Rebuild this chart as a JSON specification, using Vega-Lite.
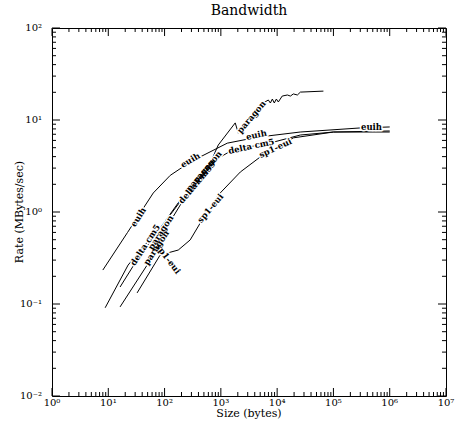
{
  "$schema": "https://vega.github.io/schema/vega-lite/v6.json",
  "width": 394,
  "height": 368,
  "autosize": "none",
  "padding": {"left": 52, "top": 28, "right": 9, "bottom": 30},
  "background": "white",
  "title": {"text": "Bandwidth", "font": "DejaVu Serif", "fontSize": 14, "fontWeight": "normal", "color": "black", "offset": 5, "anchor": "middle"},
  "config": {
    "view": {"stroke": "black", "strokeWidth": 1}
  },
  "datasets": {
    "lines": [
      {"line": "euih", "size": 8, "rate": 0.234},
      {"line": "euih", "size": 22, "rate": 0.6},
      {"line": "euih", "size": 63, "rate": 1.61},
      {"line": "euih", "size": 126, "rate": 2.5},
      {"line": "euih", "size": 286, "rate": 3.5},
      {"line": "euih", "size": 1300, "rate": 5.6},
      {"line": "euih", "size": 4460, "rate": 6.5},
      {"line": "euih", "size": 25700, "rate": 7.4},
      {"line": "euih", "size": 302000, "rate": 8.2},
      {"line": "euih", "size": 1000000, "rate": 8.4},
      {"line": "delta cm5", "size": 8.8, "rate": 0.091},
      {"line": "delta cm5", "size": 22.5, "rate": 0.265},
      {"line": "delta cm5", "size": 45, "rate": 0.44},
      {"line": "delta cm5", "size": 91, "rate": 0.72},
      {"line": "delta cm5", "size": 190, "rate": 1.35},
      {"line": "delta cm5", "size": 350, "rate": 2.0},
      {"line": "delta cm5", "size": 795, "rate": 3.67},
      {"line": "delta cm5", "size": 1600, "rate": 4.72},
      {"line": "delta cm5", "size": 7570, "rate": 5.63},
      {"line": "delta cm5", "size": 25900, "rate": 6.87},
      {"line": "delta cm5", "size": 100000, "rate": 7.4},
      {"line": "delta cm5", "size": 1000000, "rate": 7.6},
      {"line": "paragon 1", "size": 16.2, "rate": 0.093},
      {"line": "paragon 1", "size": 49, "rate": 0.265},
      {"line": "paragon 1", "size": 102, "rate": 0.64},
      {"line": "paragon 1", "size": 190, "rate": 1.19},
      {"line": "paragon 1", "size": 350, "rate": 1.96},
      {"line": "paragon 1", "size": 648, "rate": 3.41},
      {"line": "paragon 1", "size": 900, "rate": 5.35},
      {"line": "paragon 1", "size": 1800, "rate": 9.3},
      {"line": "paragon 1", "size": 2040, "rate": 7.2},
      {"line": "paragon 1", "size": 5680, "rate": 15.3},
      {"line": "paragon 1", "size": 6970, "rate": 16.5},
      {"line": "paragon 1", "size": 7580, "rate": 15.3},
      {"line": "paragon 1", "size": 8220, "rate": 16.9},
      {"line": "paragon 1", "size": 8910, "rate": 15.3},
      {"line": "paragon 1", "size": 9680, "rate": 16.9},
      {"line": "paragon 1", "size": 10500, "rate": 15.7},
      {"line": "paragon 1", "size": 12300, "rate": 18.2},
      {"line": "paragon 1", "size": 15200, "rate": 18.7},
      {"line": "paragon 1", "size": 17200, "rate": 18.2},
      {"line": "paragon 1", "size": 19400, "rate": 19.2},
      {"line": "paragon 1", "size": 22900, "rate": 18.7},
      {"line": "paragon 1", "size": 25900, "rate": 20.1},
      {"line": "paragon 1", "size": 66400, "rate": 20.6},
      {"line": "paragon 2", "size": 16.2, "rate": 0.153},
      {"line": "paragon 2", "size": 34, "rate": 0.316},
      {"line": "paragon 2", "size": 68, "rate": 0.56},
      {"line": "paragon 2", "size": 126, "rate": 0.93},
      {"line": "paragon 2", "size": 232, "rate": 1.53},
      {"line": "paragon 2", "size": 430, "rate": 2.34},
      {"line": "paragon 2", "size": 732, "rate": 3.67},
      {"line": "sp1-eui", "size": 32.5, "rate": 0.132},
      {"line": "sp1-eui", "size": 83.5, "rate": 0.341},
      {"line": "sp1-eui", "size": 175, "rate": 0.386},
      {"line": "sp1-eui", "size": 285, "rate": 0.497},
      {"line": "sp1-eui", "size": 486, "rate": 0.86},
      {"line": "sp1-eui", "size": 900, "rate": 1.53},
      {"line": "sp1-eui", "size": 2215, "rate": 2.72},
      {"line": "sp1-eui", "size": 5000, "rate": 3.96},
      {"line": "sp1-eui", "size": 19500, "rate": 6.4},
      {"line": "sp1-eui", "size": 100000, "rate": 7.4},
      {"line": "sp1-eui", "size": 1000000, "rate": 7.4}
    ],
    "labels": [
      {"text": "euih", "size": 34, "rate": 0.88},
      {"text": "euih", "size": 286, "rate": 3.67},
      {"text": "euih", "size": 4270, "rate": 6.9},
      {"text": "euih", "size": 475000, "rate": 8.4},
      {"text": "delta cm5", "size": 45, "rate": 0.44},
      {"text": "delta cm5", "size": 350, "rate": 2.0},
      {"text": "delta cm5", "size": 3470, "rate": 5.2},
      {"text": "paragon", "size": 71, "rate": 0.41},
      {"text": "paragon", "size": 85, "rate": 0.6},
      {"text": "paragon", "size": 430, "rate": 2.52},
      {"text": "paragon", "size": 573, "rate": 3.08},
      {"text": "paragon", "size": 3470, "rate": 10.8},
      {"text": "sp1-eui", "size": 116, "rate": 0.31},
      {"text": "sp1-eui", "size": 648, "rate": 1.1},
      {"text": "sp1-eui", "size": 9300, "rate": 4.97}
    ],
    "xmajor": [{"v": 1}, {"v": 10}, {"v": 100}, {"v": 1000}, {"v": 10000}, {"v": 100000}, {"v": 1000000}, {"v": 10000000}],
    "xticks": [{"v":1},{"v":2},{"v":3},{"v":4},{"v":5},{"v":6},{"v":7},{"v":8},{"v":9},{"v":10},{"v":20},{"v":30},{"v":40},{"v":50},{"v":60},{"v":70},{"v":80},{"v":90},{"v":100},{"v":200},{"v":300},{"v":400},{"v":500},{"v":600},{"v":700},{"v":800},{"v":900},{"v":1000},{"v":2000},{"v":3000},{"v":4000},{"v":5000},{"v":6000},{"v":7000},{"v":8000},{"v":9000},{"v":10000},{"v":20000},{"v":30000},{"v":40000},{"v":50000},{"v":60000},{"v":70000},{"v":80000},{"v":90000},{"v":100000},{"v":200000},{"v":300000},{"v":400000},{"v":500000},{"v":600000},{"v":700000},{"v":800000},{"v":900000},{"v":1000000},{"v":2000000},{"v":3000000},{"v":4000000},{"v":5000000},{"v":6000000},{"v":7000000},{"v":8000000},{"v":9000000},{"v":10000000}],
    "ymajor": [{"v": 0.01}, {"v": 0.1}, {"v": 1}, {"v": 10}, {"v": 100}],
    "yticks": [{"v":0.01},{"v":0.02},{"v":0.03},{"v":0.04},{"v":0.05},{"v":0.06},{"v":0.07},{"v":0.08},{"v":0.09},{"v":0.1},{"v":0.2},{"v":0.3},{"v":0.4},{"v":0.5},{"v":0.6},{"v":0.7},{"v":0.8},{"v":0.9},{"v":1},{"v":2},{"v":3},{"v":4},{"v":5},{"v":6},{"v":7},{"v":8},{"v":9},{"v":10},{"v":20},{"v":30},{"v":40},{"v":50},{"v":60},{"v":70},{"v":80},{"v":90},{"v":100}]
  },
  "layer": [
    {
      "data": {"name": "lines"},
      "mark": {"type": "line", "color": "black", "strokeWidth": 1, "clip": true},
      "encoding": {
        "x": {"field": "size", "type": "quantitative", "scale": {"type": "log", "domain": [1, 10000000], "nice": false}, "axis": null},
        "y": {"field": "rate", "type": "quantitative", "scale": {"type": "log", "domain": [0.01, 100], "nice": false}, "axis": null},
        "detail": {"field": "line"}
      }
    },
    {
      "data": {"name": "xticks"},
      "transform": [
        {"calculate": "abs(log(datum.v)/LN10 - round(log(datum.v)/LN10)) < 0.000001", "as": "m"},
        {"calculate": "0.01", "as": "b1"},
        {"calculate": "datum.m ? 0.01222 : 0.01105", "as": "b2"},
        {"calculate": "100", "as": "t1"},
        {"calculate": "datum.m ? 81.8 : 90.5", "as": "t2"}
      ],
      "layer": [
        {
          "mark": {"type": "rule", "color": "black", "strokeWidth": 1},
          "encoding": {
            "x": {"field": "v", "type": "quantitative", "axis": null},
            "y": {"field": "b1", "type": "quantitative", "axis": null},
            "y2": {"field": "b2"}
          }
        },
        {
          "mark": {"type": "rule", "color": "black", "strokeWidth": 1},
          "encoding": {
            "x": {"field": "v", "type": "quantitative", "axis": null},
            "y": {"field": "t1", "type": "quantitative", "axis": null},
            "y2": {"field": "t2"}
          }
        }
      ]
    },
    {
      "data": {"name": "yticks"},
      "transform": [
        {"calculate": "abs(log(datum.v)/LN10 - round(log(datum.v)/LN10)) < 0.000001", "as": "m"},
        {"calculate": "1", "as": "l1"},
        {"calculate": "datum.m ? 1.387 : 1.178", "as": "l2"},
        {"calculate": "10000000", "as": "r1"},
        {"calculate": "datum.m ? 7210000 : 8490000", "as": "r2"}
      ],
      "layer": [
        {
          "mark": {"type": "rule", "color": "black", "strokeWidth": 1},
          "encoding": {
            "y": {"field": "v", "type": "quantitative", "axis": null},
            "x": {"field": "l1", "type": "quantitative", "axis": null},
            "x2": {"field": "l2"}
          }
        },
        {
          "mark": {"type": "rule", "color": "black", "strokeWidth": 1},
          "encoding": {
            "y": {"field": "v", "type": "quantitative", "axis": null},
            "x": {"field": "r1", "type": "quantitative", "axis": null},
            "x2": {"field": "r2"}
          }
        }
      ]
    },
    {
      "data": {"name": "xmajor"},
      "transform": [{"calculate": "['10⁻²','10⁻¹','10⁰','10¹','10²','10³','10⁴','10⁵','10⁶','10⁷'][round(log(datum.v)/LN10)+2]", "as": "lab"}],
      "mark": {"type": "text", "font": "DejaVu Serif", "fontSize": 10, "color": "black", "baseline": "top", "align": "center", "dy": 2},
      "encoding": {
        "x": {"field": "v", "type": "quantitative", "axis": null},
        "y": {"datum": 0.01, "type": "quantitative", "axis": null},
        "text": {"field": "lab"}
      }
    },
    {
      "data": {"name": "ymajor"},
      "transform": [{"calculate": "['10⁻²','10⁻¹','10⁰','10¹','10²','10³','10⁴','10⁵','10⁶','10⁷'][round(log(datum.v)/LN10)+2]", "as": "lab"}],
      "mark": {"type": "text", "font": "DejaVu Serif", "fontSize": 10, "color": "black", "baseline": "middle", "align": "right", "dx": -10},
      "encoding": {
        "y": {"field": "v", "type": "quantitative", "axis": null},
        "x": {"datum": 1, "type": "quantitative", "axis": null},
        "text": {"field": "lab"}
      }
    },
    {
      "data": {"values": [{"t": "Size (bytes)"}]},
      "mark": {"type": "text", "font": "DejaVu Serif", "fontSize": 11, "color": "black", "baseline": "middle", "align": "center", "dy": 18},
      "encoding": {
        "x": {"datum": 3162.2777, "type": "quantitative", "axis": null},
        "y": {"datum": 0.01, "type": "quantitative", "axis": null},
        "text": {"field": "t"}
      }
    },
    {
      "data": {"values": [{"t": "Rate (MBytes/sec)"}]},
      "mark": {"type": "text", "font": "DejaVu Serif", "fontSize": 11, "color": "black", "baseline": "middle", "align": "center", "angle": -90, "dy": -32},
      "encoding": {
        "x": {"datum": 1, "type": "quantitative", "axis": null},
        "y": {"datum": 1, "type": "quantitative", "axis": null},
        "text": {"field": "t"}
      }
    },
    {
      "data": {"name": "labels"},
      "transform": [
        {"calculate": "datum.text == 'sp1-eui' && datum.size < 200 ? 53 : datum.size < 100 ? -57 : datum.size < 250 ? -45 : datum.size < 330 ? -30 : datum.size < 1000 ? -50 : datum.text == 'paragon' ? -50 : datum.text == 'sp1-eui' ? -25 : datum.size < 100000 ? -12 : 0", "as": "ang"}
      ],
      "layer": [
        {
          "mark": {"type": "text", "font": "DejaVu Serif", "fontSize": 8.5, "fontWeight": "bold", "color": "white", "stroke": "white", "strokeWidth": 3, "strokeJoin": "round"},
          "encoding": {
            "x": {"field": "size", "type": "quantitative", "axis": null},
            "y": {"field": "rate", "type": "quantitative", "axis": null},
            "angle": {"field": "ang", "type": "quantitative", "scale": null},
            "text": {"field": "text"}
          }
        },
        {
          "mark": {"type": "text", "font": "DejaVu Serif", "fontSize": 8.5, "fontWeight": "bold", "color": "black"},
          "encoding": {
            "x": {"field": "size", "type": "quantitative", "axis": null},
            "y": {"field": "rate", "type": "quantitative", "axis": null},
            "angle": {"field": "ang", "type": "quantitative", "scale": null},
            "text": {"field": "text"}
          }
        }
      ]
    }
  ]
}
